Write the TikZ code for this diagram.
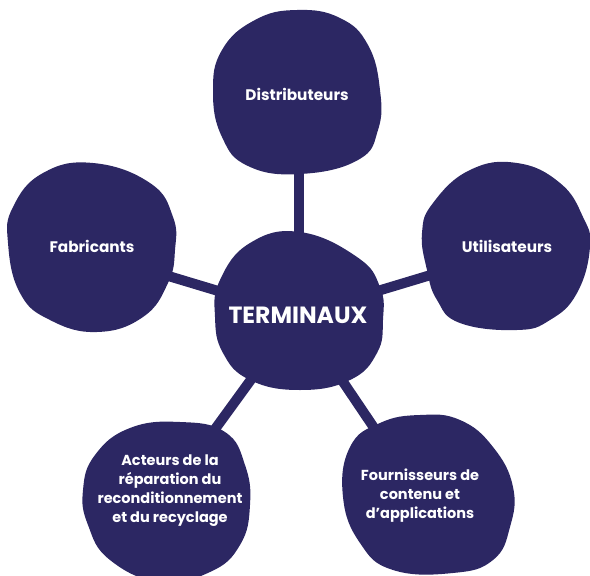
\documentclass[tikz,border=0pt]{standalone}
\usepackage{fontspec}
\setmainfont{Poppins}
\pgfdeclarelayer{links}
\pgfdeclarelayer{blobs}
\pgfsetlayers{links,blobs,main}
\definecolor{navy}{HTML}{2C2763}
\begin{document}
\begin{tikzpicture}[x=1pt,y=-1pt,
  label/.style={text=white,font=\bfseries\fontsize{14.5}{19}\selectfont,align=center,inner sep=0pt},
  big/.style={font=\bfseries\fontsize{15.3}{19}\selectfont},
  link/.style={draw=navy,line width=10pt},
  blob/.style={fill=navy}]
\useasboundingbox (0,0) rectangle (590,576);
% nodes (text)
\node[label,font=\bfseries\fontsize{23.5}{28}\selectfont] (C) at (298,315) {TERMINAUX};
\node[label,big] (D) at (297,94) {Distributeurs};
\node[label,big] (F) at (92,246) {Fabricants};
\node[label,big] (U) at (507,246) {Utilisateurs};
\node[label] (A) at (170,491) {Acteurs de la\\réparation du\\reconditionnement\\et du recyclage};
\node[label] (P) at (420,496) {Fournisseurs de\\contenu et\\d’applications};
% connectors
\begin{pgfonlayer}{links}
\draw[link] ([xshift=2pt]D.center) -- ([xshift=1pt]C.center);
\draw[link] ([yshift=-7pt]F.center) -- (C.center);
\draw[link] ([yshift=-6pt]U.center) -- (C.center);
\draw[link] (A.center) -- (C.center);
\draw[link] (P.center) -- (C.center);
\end{pgfonlayer}
% blobs
\begin{pgfonlayer}{blobs}
\fill[blob] plot[smooth cycle,tension=0.75] coordinates {(300,232) (357,257) (380,287) (383,320) (377,353) (350,380) (300,390) (250,380) (223,353) (215,317) (220,280) (250,243)};
\fill[blob] plot[smooth cycle,tension=0.75] coordinates {(297,10) (340,18) (368,45) (380,90) (378,130) (358,160) (300,174) (248,166) (222,137) (213,92) (222,50) (255,20)};
\fill[blob] plot[smooth cycle,tension=0.75] coordinates {(93,163) (150,183) (173,217) (175,250) (168,283) (143,317) (97,332) (50,320) (20,293) (8,243) (13,207) (43,173)};
\fill[blob] plot[smooth cycle,tension=0.75] coordinates {(517,163) (560,183) (583,217) (590,247) (577,293) (550,320) (517,330) (460,323) (437,300) (427,270) (422,233) (433,203) (470,170)};
\fill[blob] plot[smooth cycle,tension=0.75] coordinates {(420,415) (460,420) (493,447) (513,487) (510,527) (493,560) (453,573) (393,570) (360,543) (343,497) (350,447) (380,423)};
\fill[blob] plot[smooth cycle,tension=0.75] coordinates {(180,422) (225,432) (245,465) (250,505) (240,545) (210,572) (160,582) (110,560) (88,525) (83,490) (95,455) (130,428)};
\end{pgfonlayer}
\end{tikzpicture}
\end{document}
